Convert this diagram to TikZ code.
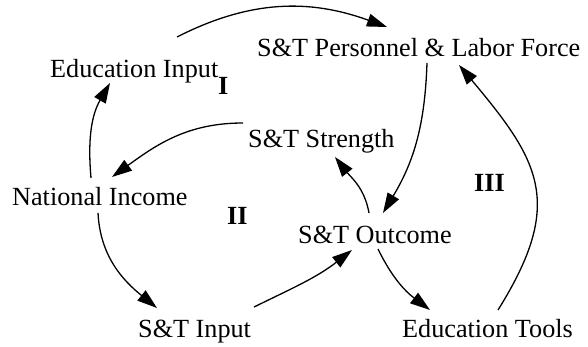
\documentclass[tikz,border=0pt]{standalone}
\usepackage{fontspec}
\setmainfont{Liberation Serif}
\usetikzlibrary{arrows.meta}
\begin{document}
\begin{tikzpicture}[x=1pt,y=-1pt,font=\fontsize{26.2}{30}\selectfont,
    every node/.style={anchor=base west,inner sep=0pt},
    loop/.style={font=\fontsize{26.2}{30}\selectfont\bfseries}]
      \useasboundingbox (0,0) rectangle (588,347);
      \draw
        (50,78) node (edin){Education Input}
        (257,57) node (pers){S\&T Personnel \& Labor Force}
        (248,148) node (stren){S\&T Strength}
        (12,205) node (inc){National Income}
        (298,243) node (outc){S\&T Outcome}
        (138,337) node (sinp){S\&T Input}
        (402,337) node (tools){Education Tools};
      \draw
        (218,95) node[loop] (l1){I}
        (227,225) node[loop] (l2){II}
        (474,192) node[loop] (l3){III};
      \begin{scope}[-{Triangle[length=20pt,width=13pt]},line width=1.3pt]
        \draw ([xshift=127pt,yshift=41pt]edin.base west) to[out=27,in=160] ([xshift=130pt,yshift=30pt]pers.base west);
        \draw ([xshift=170pt,yshift=-6pt]pers.base west) to[out=-92,in=59] ([xshift=85pt,yshift=30pt]outc.base west);
        \draw ([xshift=71pt,yshift=30pt]outc.base west) to[out=100,in=-52] ([xshift=87pt,yshift=-9pt]stren.base west);
        \draw ([xshift=-5pt,yshift=25pt]stren.base west) to[out=180,in=36] ([xshift=100pt,yshift=28pt]inc.base west);
        \draw ([xshift=79pt,yshift=27pt]inc.base west) to[out=95,in=-120] ([xshift=60pt,yshift=-5pt]edin.base west);
        \draw ([xshift=86pt,yshift=-8pt]inc.base west) to[out=-87,in=141] ([xshift=19pt,yshift=29pt]sinp.base west);
        \draw ([xshift=116pt,yshift=30pt]sinp.base west) to[out=26,in=-142] ([xshift=54pt,yshift=-7pt]outc.base west);
        \draw ([xshift=80pt,yshift=-6pt]outc.base west) to[out=-64,in=143] ([xshift=28pt,yshift=27pt]tools.base west);
        \draw ([xshift=96pt,yshift=27pt]tools.base west) to[out=58,in=-50,looseness=1.3] ([xshift=202pt,yshift=-8pt]pers.base west);
      \end{scope}
    \end{tikzpicture}
\end{document}
